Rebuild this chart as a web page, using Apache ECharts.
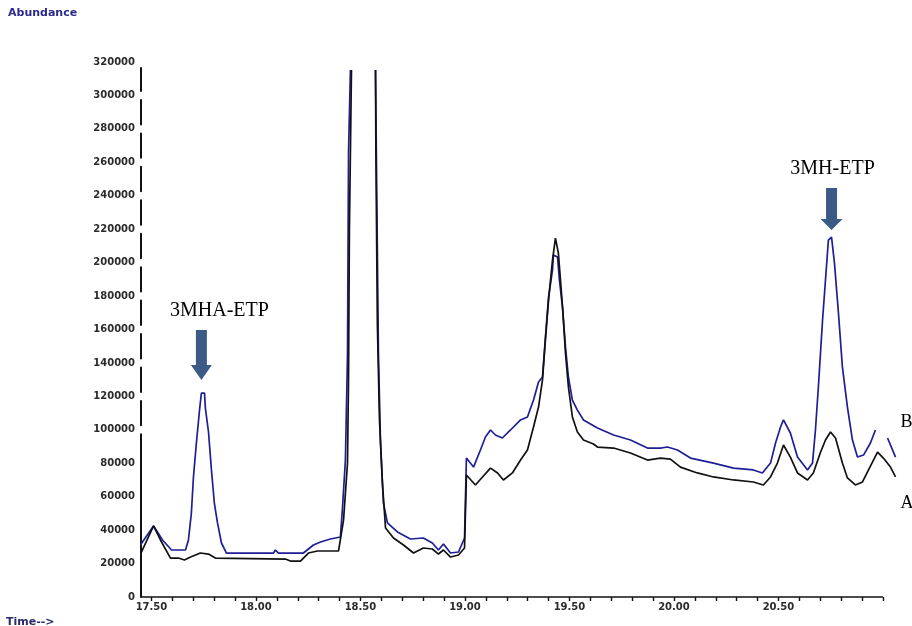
<!DOCTYPE html>
<html>
<head>
<meta charset="utf-8">
<script src="https://cdn.jsdelivr.net/npm/echarts@6/dist/echarts.min.js"></script>
<style>
  html, body { margin: 0; padding: 0; background: #ffffff; }
  #chart { width: 912px; height: 626px; }
</style>
</head>
<body>
<div id="chart"></div>
<script>
// Retention time (min) and abundance for trace B (spiked sample)
const traceB = [
  [17.447, 31100], [17.510, 42500], [17.553, 34100], [17.596, 28100], [17.663, 28100],
  [17.677, 34100], [17.691, 50200], [17.701, 71800], [17.715, 92100], [17.730, 111800],
  [17.739, 122000], [17.754, 122000], [17.758, 113000], [17.773, 98700], [17.787, 76000],
  [17.801, 56200], [17.816, 44300], [17.835, 32300], [17.859, 26300], [18.084, 26300],
  [18.093, 28100], [18.108, 26300], [18.227, 26300], [18.275, 31100], [18.309, 32900],
  [18.356, 34700], [18.404, 35900], [18.414, 53200], [18.428, 81900], [18.438, 144700],
  [18.443, 266100], [18.452, 315200], [18.510, null], [18.572, 315200], [18.577, 253600],
  [18.586, 145900], [18.596, 92100], [18.610, 56200], [18.629, 44300], [18.677, 38900],
  [18.739, 34700], [18.801, 35300], [18.844, 32300], [18.873, 28100], [18.897, 31700],
  [18.931, 26300], [18.969, 26900], [18.998, 35300], [19.007, 83100], [19.041, 77700],
  [19.074, 87900], [19.098, 95700], [19.122, 99900], [19.146, 96900], [19.179, 95100],
  [19.218, 99900], [19.266, 105900], [19.299, 107700], [19.328, 117800], [19.352, 128600],
  [19.371, 131600], [19.385, 155500], [19.400, 179400], [19.419, 195600], [19.423, 204500],
  [19.443, 203400], [19.452, 189600], [19.467, 172800], [19.481, 149500], [19.495, 131600],
  [19.514, 117800], [19.538, 111800], [19.567, 105900], [19.634, 101100], [19.711, 96900],
  [19.792, 93900], [19.873, 89100], [19.935, 89100], [19.969, 89700], [20.017, 87900],
  [20.079, 83100], [20.189, 80100], [20.285, 77100], [20.380, 76000], [20.423, 74200],
  [20.462, 80100], [20.486, 92100], [20.510, 101700], [20.524, 105900], [20.557, 98100],
  [20.591, 83700], [20.639, 76000], [20.663, 80100], [20.677, 99900], [20.691, 125600],
  [20.711, 165700], [20.725, 189600], [20.739, 213500], [20.754, 215300], [20.768, 199700],
  [20.787, 169900], [20.806, 137500], [20.830, 113600], [20.854, 93900], [20.878, 83700],
  [20.907, 84900], [20.940, 92100], [20.964, 99900], [20.990, null], [21.022, 95100],
  [21.060, 83700]
];

// Retention time (min) and abundance for trace A (blank sample)
const traceA = [
  [17.452, 26900], [17.510, 42500], [17.543, 34100], [17.591, 23300], [17.629, 23300],
  [17.658, 22100], [17.687, 23900], [17.734, 26300], [17.773, 25700], [17.806, 23300],
  [18.141, 22700], [18.165, 21500], [18.213, 21500], [18.251, 26300], [18.294, 27500],
  [18.395, 27500], [18.419, 46000], [18.438, 80100], [18.443, 131000], [18.447, 218300],
  [18.457, 315200], [18.510, null], [18.572, 315200], [18.574, 264300], [18.581, 162700],
  [18.591, 105900], [18.605, 68200], [18.620, 41300], [18.658, 35300], [18.706, 31100],
  [18.754, 26300], [18.801, 29300], [18.844, 28700], [18.873, 25700], [18.897, 28100],
  [18.931, 23900], [18.969, 25100], [18.998, 29300], [19.007, 73000], [19.050, 67000],
  [19.084, 71800], [19.122, 77100], [19.156, 74200], [19.184, 70000], [19.227, 74200],
  [19.266, 81900], [19.299, 87900], [19.328, 101700], [19.352, 113600], [19.371, 129800],
  [19.385, 153700], [19.400, 177600], [19.419, 201600], [19.433, 214700], [19.447, 205700],
  [19.467, 173400], [19.481, 145900], [19.495, 125600], [19.514, 107700], [19.538, 98700],
  [19.567, 93900], [19.615, 91500], [19.634, 89700], [19.711, 89100], [19.792, 86100],
  [19.873, 81900], [19.935, 83100], [19.983, 82500], [20.031, 77700], [20.112, 74200],
  [20.189, 71800], [20.285, 70000], [20.380, 68800], [20.428, 67000], [20.462, 71800],
  [20.495, 80100], [20.524, 90900], [20.557, 83700], [20.591, 74200], [20.639, 70000],
  [20.667, 74200], [20.700, 86100], [20.725, 93900], [20.749, 98700], [20.773, 95100],
  [20.806, 80100], [20.830, 71200], [20.868, 67000], [20.902, 68800], [20.931, 76000],
  [20.974, 86700], [21.002, 83100], [21.036, 77700], [21.060, 71800]
];

// Axis tick labels and tick positions (min)
const timeLabels = [17.5, 18.0, 18.5, 19.0, 19.5, 20.0, 20.5];
const timeTicks = [17.5, 17.6, 17.7, 17.8, 17.9, 18.0, 18.1, 18.2, 18.3, 18.4, 18.5,
  18.6, 18.7, 18.8, 18.9, 19.0, 19.1, 19.2, 19.3, 19.4, 19.5, 19.6, 19.7, 19.8, 19.9,
  20.0, 20.1, 20.2, 20.3, 20.4, 20.5, 20.6, 20.7, 20.8, 20.9, 21.0];

// Compound peaks marked on trace B: name and retention-time window
const peakNames = ['3MHA-ETP', '3MH-ETP'];
const peakWindows = [[17.6, 17.9], [20.6, 20.9]];

// Time axis: the traces run a little past the last tick at 21.00
const X_MIN = 17.45, X_AXIS_END = 21.0, X_MAX = 21.06;
const Y_MAX = 320000, Y_STEP = 20000;
const GRID = { left: 141, right: 16.5, top: 62, bottom: 29 };

// Find the apex of a trace inside a window
function apex(trace, win) {
  let best = null;
  trace.forEach(p => {
    if (p[1] != null && p[0] >= win[0] && p[0] <= win[1]) {
      if (!best || p[1] > best[1]) best = p;
    }
  });
  return best;
}

// Broken y axis line: small gaps beside the upper tick labels
function yAxisDash() {
  const h = 626 - GRID.top - GRID.bottom;
  const step = h / (Y_MAX / Y_STEP);
  const gap = 9;
  const dash = [];
  let pos = 0;
  for (let k = 5; k <= 15; k++) {
    const c = k * step;
    dash.push(c - gap / 2 - pos, gap);
    pos = c + gap / 2;
  }
  dash.push(h - 6 - pos, 20);
  return dash;
}

const arrowTall = 'path://M5,0 L16,0 L16,35 L21,35 L10.5,50 L0,35 L5,35 Z';
const arrowShort = 'path://M5.5,0 L16.5,0 L16.5,31 L22,31 L11,42 L0,31 L5.5,31 Z';
const arrowStyles = [
  { symbol: arrowTall, symbolSize: [21, 50], symbolOffset: [0, -38], labelOffset: [18, 0] },
  { symbol: arrowShort, symbolSize: [22, 42], symbolOffset: [0, -28], labelOffset: [1, 0] }
];

const markers = peakNames.map((name, i) => {
  const p = apex(traceB, peakWindows[i]);
  const s = arrowStyles[i];
  return {
    name: name,
    coord: [p[0], p[1]],
    symbol: s.symbol,
    symbolSize: s.symbolSize,
    symbolOffset: s.symbolOffset,
    label: {
      show: true,
      position: 'top',
      distance: 9,
      offset: s.labelOffset,
      formatter: name,
      color: '#000',
      fontFamily: 'Liberation Serif',
      fontSize: 20
    }
  };
});

const chart = echarts.init(document.getElementById('chart'), null, { renderer: 'canvas' });

const labelFont = { fontFamily: 'DejaVu Sans', fontWeight: 'bold', fontSize: 10, color: '#2b2b2b' };

chart.setOption({
  animation: false,
  backgroundColor: '#ffffff',
  grid: GRID,
  xAxis: {
    type: 'value',
    min: X_MIN,
    max: X_MAX,
    axisLine: { show: false },
    axisTick: {
      show: true,
      customValues: timeTicks,
      length: 4,
      lineStyle: { color: '#111', width: 1.4 }
    },
    axisLabel: Object.assign({
      customValues: timeLabels,
      margin: 5,
      formatter: v => v.toFixed(2)
    }, labelFont),
    splitLine: { show: false }
  },
  yAxis: {
    type: 'value',
    min: 0,
    max: Y_MAX,
    interval: Y_STEP,
    axisLine: { show: true, lineStyle: { color: '#111', width: 2, type: yAxisDash() } },
    axisTick: { show: false },
    axisLabel: Object.assign({ margin: 6, formatter: v => String(v) }, labelFont),
    splitLine: { show: false }
  },
  graphic: [
    {
      type: 'text', left: 8, top: 8,
      style: { text: 'Abundance', fontFamily: 'DejaVu Sans', fontWeight: 'bold', fontSize: 11, fill: '#2a2a8c' }
    },
    {
      type: 'text', left: 6, top: 617,
      style: { text: 'Time-->', fontFamily: 'DejaVu Sans', fontWeight: 'bold', fontSize: 11, fill: '#2a2a6a' }
    }
  ],
  series: [
    {
      name: 'B',
      type: 'line',
      data: traceB,
      symbol: 'none',
      clip: false,
      connectNulls: false,
      lineStyle: { color: '#1e1e96', width: 1.7 },
      endLabel: {
        show: true,
        formatter: 'B',
        offset: [-3, -35],
        color: '#000',
        fontFamily: 'Liberation Serif',
        fontSize: 18
      },
      markPoint: {
        silent: true,
        itemStyle: { color: '#3b5b86' },
        data: markers
      },
      z: 2
    },
    {
      name: 'A',
      type: 'line',
      data: traceA,
      symbol: 'none',
      clip: false,
      connectNulls: false,
      lineStyle: { color: '#111111', width: 1.7 },
      endLabel: {
        show: true,
        formatter: 'A',
        offset: [-3, 26],
        color: '#000',
        fontFamily: 'Liberation Serif',
        fontSize: 18
      },
      // time axis baseline, ending at the last tick
      markLine: {
        silent: true,
        symbol: 'none',
        label: { show: false },
        lineStyle: { color: '#111', width: 1.6, type: 'solid' },
        data: [[{ coord: [X_MIN, 0] }, { coord: [X_AXIS_END, 0] }]]
      },
      z: 3
    }
  ]
});
</script>
</body>
</html>
